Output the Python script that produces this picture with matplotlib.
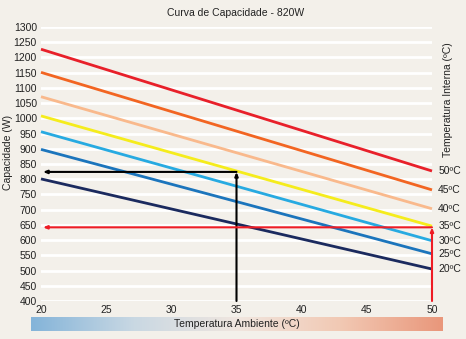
import matplotlib
matplotlib.use("Agg")
import matplotlib.pyplot as plt
import numpy as np
from matplotlib.colors import LinearSegmentedColormap

plt.rcParams['font.family'] = ['Liberation Sans', 'DejaVu Sans']

# Data
amb_temps = [20, 50]
internal_labels = ["50ºC", "45ºC", "40ºC", "35ºC", "30ºC", "25ºC", "20ºC"]
cap_50 = [1227, 827]
cap_45 = [1151, 765]
cap_40 = [1071, 703]
cap_35 = [1008, 646]
cap_30 = [956, 598]
cap_25 = [898, 555]
cap_20 = [801, 505]
series = [cap_50, cap_45, cap_40, cap_35, cap_30, cap_25, cap_20]
colors = ["#e8202a", "#f26522", "#f9b98c", "#f5ec1c", "#27aae1", "#1c75bc", "#1b2a5e"]

xticks = [20, 25, 30, 35, 40, 45, 50]
yticks = list(range(400, 1301, 50))

# example readings
ex1_x, ex1_y = 35, 824
ex2_x, ex2_y = 50, 642

bg = "#f3f0ea"
fig = plt.figure(figsize=(4.66, 3.39), dpi=100, facecolor=bg)
ax = fig.add_axes([41/466, 1-301/339, (432-41)/466, (301-27)/339], facecolor=bg)

ax.set_xlim(20, 50)
ax.set_ylim(400, 1300)
ax.set_yticks(yticks)
ax.set_xticks(xticks)
ax.grid(axis='y', color='white', linewidth=2)
ax.set_axisbelow(True)
for s in ax.spines.values():
    s.set_visible(False)
ax.tick_params(length=0, labelsize=7.5, colors='#222222', pad=3)

for vals, c in zip(series, colors):
    ax.plot(amb_temps, vals, color=c, linewidth=2, solid_capstyle='butt', clip_on=False, zorder=3)

for vals, lab in zip(series, internal_labels):
    ax.annotate(lab, xy=(amb_temps[-1], vals[-1]), xytext=(4.5, 0), textcoords='offset points',
                ha='left', va='center', fontsize=7.5, color='#222222', annotation_clip=False)

# Example arrows
astyle = '-|>,head_length=0.22,head_width=0.09'
def guide(x, y, color):
    ax.annotate('', xy=(x, y), xytext=(x, 400),
                arrowprops=dict(arrowstyle=astyle, color=color, lw=1.5,
                                shrinkA=0, shrinkB=0), annotation_clip=False, zorder=5)
    ax.annotate('', xy=(20.15, y), xytext=(x, y),
                arrowprops=dict(arrowstyle=astyle, color=color, lw=1.5,
                                shrinkA=0, shrinkB=0), annotation_clip=False, zorder=5)

guide(ex1_x, ex1_y, 'black')
guide(ex2_x, ex2_y, '#ee1c25')

fig.text(236/466, 1-13/339, "Curva de Capacidade - 820W", ha='center', va='center', fontsize=7.5, color='#222222')
fig.text(8/466, 1-152/339, "Capacidade (W)", rotation=90, ha='center', va='center', fontsize=7.5, color='#222222')
fig.text(448/466, 1-100/339, "Temperatura Interna (ºC)", rotation=90, ha='center', va='center', fontsize=7.5, color='#222222')

# gradient bar
bax = fig.add_axes([31/466, 1-331/339, (443-31)/466, 14/339])
cmap = LinearSegmentedColormap.from_list('amb', ["#84b4d9", "#c9d8e3", "#f0e6df", "#f2c9b4", "#e9977b"])
bax.imshow(np.linspace(0, 1, 256)[None, :], aspect='auto', cmap=cmap, extent=[0, 1, 0, 1])
bax.set_axis_off()
bax.text(0.5, 0.5, "Temperatura Ambiente (ºC)", ha='center', va='center', fontsize=7.5, color='#222222',
         transform=bax.transAxes)

fig.savefig("out.png", dpi=100, facecolor=bg)
